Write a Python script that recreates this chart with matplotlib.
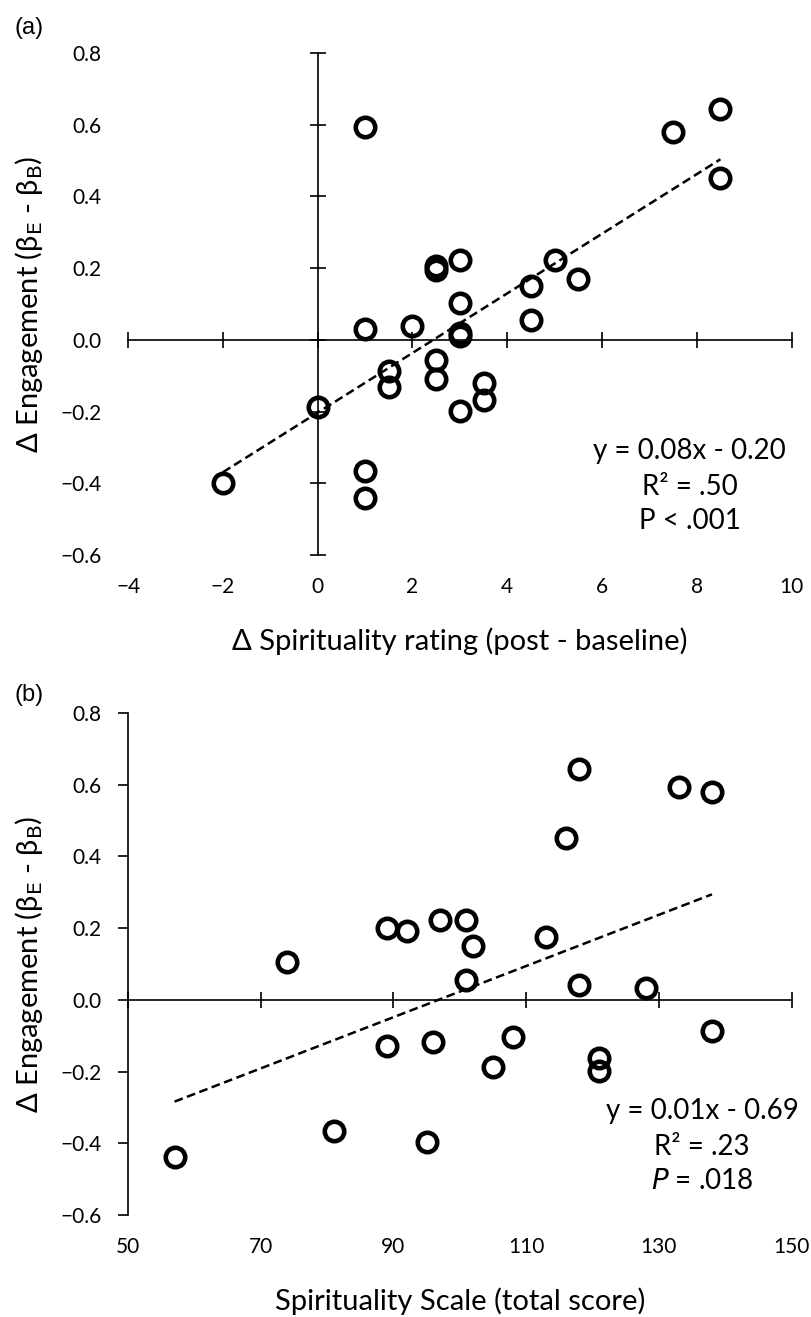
import numpy as np
import matplotlib.pyplot as plt

# panel (a): change in spirituality rating vs change in engagement
spirit_change = [1, 8.5, 7.5, 8.5, 2.5, 2.5, 3, 5, 5.5, 4.5, 3, 4.5, 1, 2, 3, 3,
                 2.5, 1.5, 1.5, 2.5, 3.5, 3.5, 3, 0, -2, 1, 1]
engage_a = [0.593, 0.644, 0.579, 0.451, 0.205, 0.195, 0.222, 0.222, 0.171, 0.149,
            0.103, 0.054, 0.030, 0.039, 0.019, 0.010, -0.055, -0.088, -0.132,
            -0.108, -0.120, -0.169, -0.198, -0.188, -0.400, -0.367, -0.442]

# panel (b): spirituality scale total vs change in engagement
spirit_scale = [118, 133, 138, 116, 97, 101, 89, 92, 113, 102, 74, 101, 118, 128,
                138, 108, 96, 89, 105, 121, 121, 81, 95, 57]
engage_b = [0.644, 0.594, 0.580, 0.452, 0.224, 0.224, 0.201, 0.192, 0.175, 0.151,
            0.107, 0.056, 0.042, 0.033, -0.086, -0.104, -0.118, -0.128, -0.188,
            -0.163, -0.198, -0.365, -0.397, -0.437]

yticks = np.round(np.arange(-0.6, 0.81, 0.2), 1)
xticks_a = np.arange(-4, 11, 2)
xticks_b = np.arange(50, 151, 20)

stats_a = ["y = 0.08x - 0.20", "R\u00b2 = .50", "P < .001"]
stats_b = ["y = 0.01x - 0.69", "R\u00b2 = .23", "$\\it{P}$ = .018"]

FONT = ["Lato", "DejaVu Sans"]
plt.rcParams["font.family"] = FONT


def draw_panel(ax, x, y, xticks, xlim, cross_y, stats, stat_x, xlabel, tag, tag_y):
    ax.set_xlim(*xlim)
    ax.set_ylim(-0.6, 0.8)
    for s in ["top", "right"]:
        ax.spines[s].set_visible(False)
    ax.spines["bottom"].set_position(("data", 0))
    ax.spines["left"].set_position(("data", cross_y))
    ax.set_xticks(xticks)
    ax.set_yticks(yticks)
    ax.tick_params(axis="x", direction="inout", length=12, width=1.2,
                   labelbottom=False)
    if cross_y == xlim[0]:
        ax.tick_params(axis="y", direction="out", length=7, width=1.2,
                       labelleft=False)
    else:
        ax.tick_params(axis="y", direction="inout", length=12, width=1.2,
                       labelleft=False)
    for s in ["left", "bottom"]:
        ax.spines[s].set_linewidth(1.2)

    # tick labels sit on the frame edges, not on the crossing axes
    sx = ax.secondary_xaxis(0)
    sx.set_xticks(xticks, [str(t).replace("-", "\u2212") for t in xticks])
    sx.tick_params(length=0, pad=16, labelsize=15)
    sy = ax.secondary_yaxis(0)
    sy.set_yticks(yticks, [f"{t:.1f}".replace("-", "\u2212") for t in yticks])
    sy.tick_params(length=0, pad=19, labelsize=15)
    for sec in (sx, sy):
        for sp in sec.spines.values():
            sp.set_visible(False)

    ax.plot(x, y, "o", ms=14, mfc="none", mec="black", mew=3.3, clip_on=False)

    k, b = np.polyfit(x, y, 1)
    xs = np.array([min(x), max(x)])
    ax.plot(xs, k * xs + b, color="black", lw=1.8, ls=(0, (3.5, 1.8)))

    for txt, ty in zip(stats, [-0.31, -0.41, -0.505]):
        ax.text(stat_x, ty, txt, ha="center", va="center", fontsize=20)

    ax.set_xlabel(xlabel, fontsize=21)
    ax.xaxis.set_label_coords(0.5, -0.145)
    ax.set_ylabel("\u0394 Engagement (\u03b2$_\\mathrm{E}$ - \u03b2$_\\mathrm{B}$)",
                  fontsize=21)
    ax.yaxis.set_label_coords(-0.125, 0.5)
    ax.text(-0.172, tag_y, tag, transform=ax.transAxes, fontsize=17,
            family=["Liberation Sans", "DejaVu Sans"], ha="left", va="center")


fig = plt.figure(figsize=(8.11, 13.17), dpi=100)
ax_a = fig.add_axes([0.158, 0.5786, 0.818, 0.3812])
ax_b = fig.add_axes([0.158, 0.0774, 0.818, 0.3812])

draw_panel(ax_a, spirit_change, engage_a, xticks_a, (-4, 10), 0, stats_a, 7.85,
           "\u0394 Spirituality rating (post - baseline)", "(a)", 1.05)
draw_panel(ax_b, spirit_scale, engage_b, xticks_b, (50, 150), 50, stats_b, 136.5,
           "Spirituality Scale (total score)", "(b)", 1.036)

fig.savefig("out.png", dpi=100)
